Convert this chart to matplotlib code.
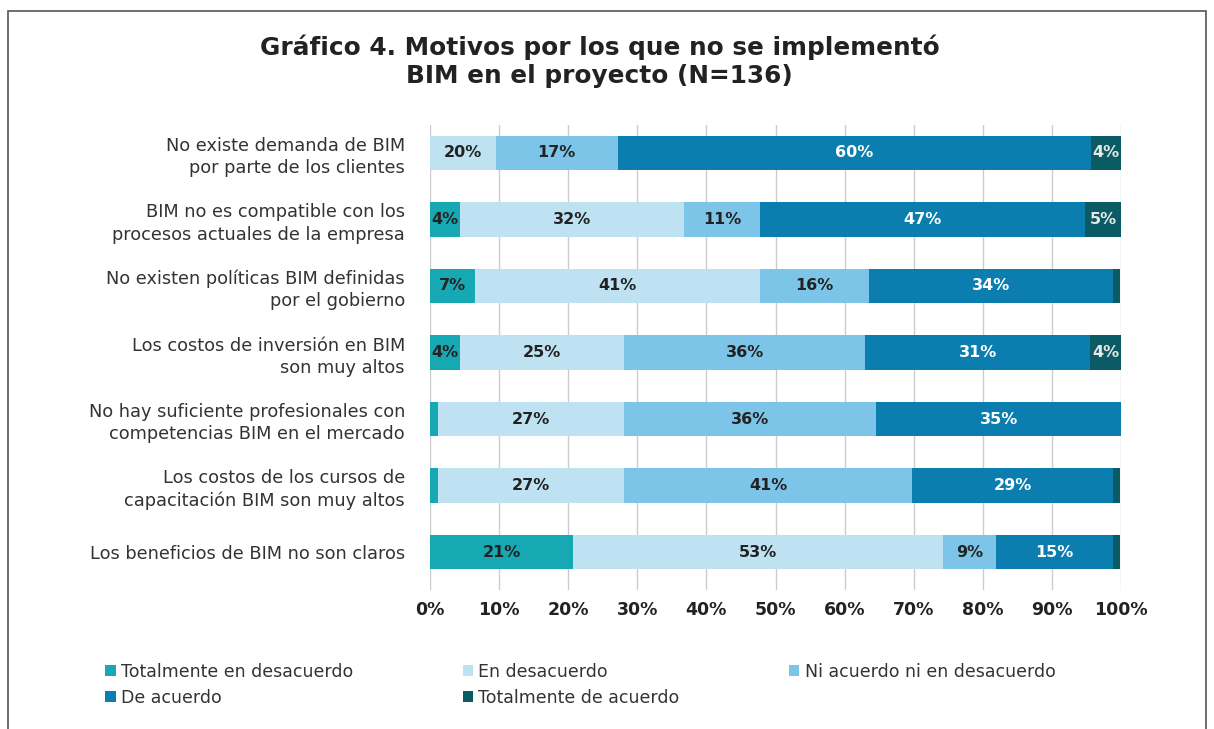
import matplotlib
matplotlib.use('Agg')
import matplotlib.pyplot as plt
import numpy as np
from matplotlib.patches import Rectangle

plt.rcParams['font.family'] = ['DejaVu Sans']

categories = ['No existe demanda de BIM\npor parte de los clientes',
              'BIM no es compatible con los\nprocesos actuales de la empresa',
              'No existen políticas BIM definidas\npor el gobierno',
              'Los costos de inversión en BIM\nson muy altos',
              'No hay suficiente profesionales con\ncompetencias BIM en el mercado',
              'Los costos de los cursos de\ncapacitación BIM son muy altos',
              'Los beneficios de BIM no son claros']

series_names = ['Totalmente en desacuerdo', 'En desacuerdo', 'Ni acuerdo ni en desacuerdo',
                'De acuerdo', 'Totalmente de acuerdo']

# bar widths as drawn in the picture (%)
tot_desacuerdo = [0, 4.4, 6.5, 4.4, 1.1, 1.1, 20.7]
en_desacuerdo = [9.5, 32.3, 41.3, 23.7, 27.0, 27.0, 53.6]
ni_acuerdo = [17.7, 11.1, 15.7, 34.9, 36.5, 41.7, 7.6]
de_acuerdo = [68.5, 47.0, 35.3, 32.5, 35.4, 29.0, 16.9]
tot_acuerdo = [4.3, 5.2, 1.1, 4.5, 0, 1.1, 1.1]

# printed labels (as they appear on the chart)
lbl_tot_desacuerdo = ['', '4%', '7%', '4%', '', '', '21%']
lbl_en_desacuerdo = ['20%', '32%', '41%', '25%', '27%', '27%', '53%']
lbl_ni_acuerdo = ['17%', '11%', '16%', '36%', '36%', '41%', '9%']
lbl_de_acuerdo = ['60%', '47%', '34%', '31%', '35%', '29%', '15%']
lbl_tot_acuerdo = ['4%', '5%', '', '4%', '', '', '']

colors = ['#16A9B3', '#BEE2F2', '#7DC5E8', '#0B7DAF', '#0A5B63']
text_colors = ['#222222', '#222222', '#222222', 'white', '#e8e8e8']

values = [tot_desacuerdo, en_desacuerdo, ni_acuerdo, de_acuerdo, tot_acuerdo]
labels = [lbl_tot_desacuerdo, lbl_en_desacuerdo, lbl_ni_acuerdo, lbl_de_acuerdo, lbl_tot_acuerdo]

fig = plt.figure(figsize=(12.14, 7.29), dpi=100)
ax = fig.add_axes([0.3542, 0.1907, 0.5692, 0.6378])

y = np.arange(len(categories))
left = np.zeros(len(categories))
handles = []
for vals, lbls, name, col, tcol in zip(values, labels, series_names, colors, text_colors):
    vals = np.array(vals, dtype=float)
    bars = ax.barh(y, vals, left=left, height=0.52, color=col, label=name, zorder=3)
    handles.append(bars)
    for yi, (l, v, t) in enumerate(zip(left, vals, lbls)):
        if t:
            ax.text(l + v / 2, yi, t, ha='center', va='center', color=tcol,
                    fontsize=11.5, fontweight='bold', zorder=4)
    left += vals

ax.set_xlim(0, 100)
ax.set_ylim(6.57, -0.42)
ax.set_xticks(np.arange(0, 101, 10))
ax.set_xticklabels([f'{v}%' for v in range(0, 101, 10)], fontsize=12.5, fontweight='semibold', color='#222222')
ax.set_yticks(y)
ax.set_yticklabels(categories, fontsize=12.8, color='#333333', linespacing=1.3)
ax.tick_params(axis='y', length=0, pad=18)
ax.tick_params(axis='x', length=0, pad=8)
ax.grid(axis='x', color='#cccccc', lw=1, zorder=0)
for s in ax.spines.values():
    s.set_visible(False)

fig.text(0.494, 0.916, 'Gráfico 4. Motivos por los que no se implementó\nBIM en el proyecto (N=136)',
         ha='center', va='center', fontsize=17.8, fontweight='bold', color='#222222', linespacing=1.25)

order = [0, 3, 1, 4, 2]
fig.legend([handles[i] for i in order], [series_names[i] for i in order], ncol=3,
           loc='upper left', bbox_to_anchor=(0.074, 0.112), frameon=False, fontsize=12.5,
           handlelength=0.6, handleheight=0.6, handletextpad=0.3, columnspacing=6.3,
           labelspacing=0.45, labelcolor='#333333')

fig.patches.append(Rectangle((0.007, -0.01), 0.986, 0.995, transform=fig.transFigure,
                             fill=False, edgecolor='#555555', lw=1.2))

fig.savefig('out.png', dpi=100)
